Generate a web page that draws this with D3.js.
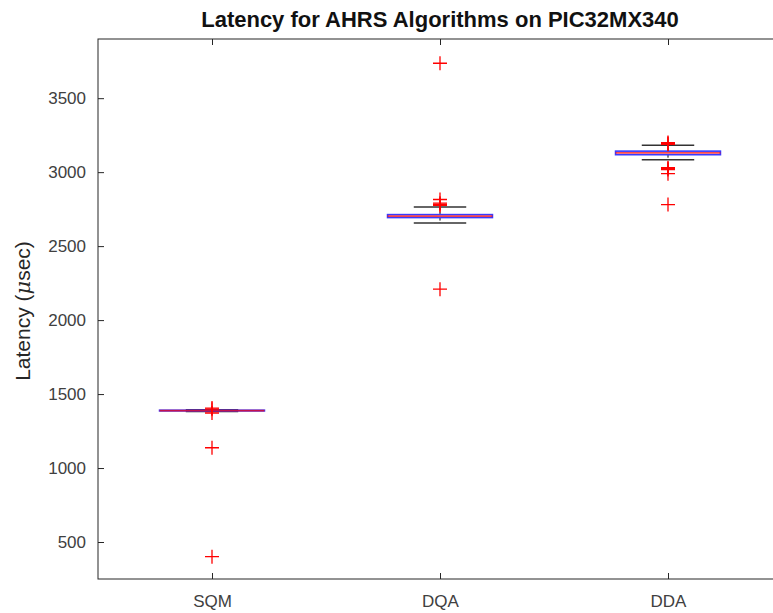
<!DOCTYPE html>
<html>
<head>
<meta charset="utf-8">
<script src="https://cdn.jsdelivr.net/npm/d3@7"></script>
<style>
  body { margin: 0; background: #fff; }
  svg { display: block; font-family: "Liberation Sans", Arial, sans-serif; }
</style>
</head>
<body>
<div id="chart"></div>
<script>
// values
const categories = ["SQM", "DQA", "DDA"]
const q1 = [1386, 2693, 3118]
const medians = [1388, 2703, 3130]
const q3 = [1391, 2713, 3142]
const whiskerLow = [1383, 2657, 3083]
const whiskerHigh = [1394, 2765, 3182]
const outliers = [
  [1405, 1398, 1372, 1137, 401],
  [3736, 2815, 2790, 2782, 2775, 2209],
  [3200, 3194, 3188, 3030, 3024, 3018, 2990, 2781]
]
const yTicks = [500, 1000, 1500, 2000, 2500, 3000, 3500]

const W = 773, H = 613
const margin = {top: 39, left: 98, bottom: 34, right: -9}
const width = W - margin.left - margin.right,
      height = H - margin.top - margin.bottom

const svg = d3.select("#chart").append("svg")
  .attr("width", W).attr("height", H)
  .style("overflow", "hidden")

const g = svg.append("g")
  .attr("transform", "translate(" + margin.left + "," + margin.top + ")")

// SCALES
const x = d3.scalePoint().domain(categories).range([0, width]).padding(0.5)
const y = d3.scaleLinear().domain([250, 3900]).range([height, 0])
const step = x.step()
const boxW = step * 0.46
const capW = boxW / 2

const axisColor = "#262626"

// frame
g.append("rect")
  .attr("width", width).attr("height", height)
  .attr("fill", "none").attr("stroke", axisColor).attr("stroke-width", 1)

// AXES (ticks inward, MATLAB style)
const yAxis = g.append("g")
  .call(d3.axisLeft(y).tickValues(yTicks).tickFormat(d3.format("d")).tickSize(-6).tickPadding(12))
const xAxis = g.append("g").attr("transform", "translate(0," + height + ")")
  .call(d3.axisBottom(x).tickSize(-6).tickPadding(16))
const xTop = g.append("g").call(d3.axisTop(x).tickSize(-6).tickFormat(""))

;[yAxis, xAxis, xTop].forEach(a => {
  a.select(".domain").remove()
  a.selectAll(".tick line").attr("stroke", axisColor)
  a.selectAll("text").attr("fill", "#404040").style("font-size", "17px")
    .style("font-family", "'Liberation Sans', Arial, sans-serif")
})

// BOXES
const boxes = g.selectAll(".box").data(categories).enter().append("g").attr("class", "box")

boxes.append("line")
  .attr("x1", d => x(d)).attr("x2", d => x(d))
  .attr("y1", (d, i) => y(q3[i])).attr("y2", (d, i) => y(whiskerHigh[i]))
  .attr("stroke", "black").attr("stroke-dasharray", "3,2")
boxes.append("line")
  .attr("x1", d => x(d)).attr("x2", d => x(d))
  .attr("y1", (d, i) => y(q1[i])).attr("y2", (d, i) => y(whiskerLow[i]))
  .attr("stroke", "black").attr("stroke-dasharray", "3,2")

;[whiskerHigh, whiskerLow].forEach(arr => {
  boxes.append("line")
    .attr("x1", d => x(d) - capW / 2).attr("x2", d => x(d) + capW / 2)
    .attr("y1", (d, i) => y(arr[i])).attr("y2", (d, i) => y(arr[i]))
    .attr("stroke", "#333").attr("stroke-width", 1.5)
})

boxes.append("rect")
  .attr("x", d => x(d) - boxW / 2).attr("width", boxW)
  .attr("y", (d, i) => y(q3[i])).attr("height", (d, i) => y(q1[i]) - y(q3[i]))
  .attr("fill", "none").attr("stroke", "#3a3aff").attr("stroke-width", 1.6)

boxes.append("line")
  .attr("x1", d => x(d) - boxW / 2).attr("x2", d => x(d) + boxW / 2)
  .attr("y1", (d, i) => y(medians[i])).attr("y2", (d, i) => y(medians[i]))
  .attr("stroke", "red").attr("stroke-opacity", 0.7).attr("stroke-width", 1.6)

// OUTLIERS
const pts = []
categories.forEach((c, i) => outliers[i].forEach(v => pts.push({c: c, v: v})))
g.selectAll(".out").data(pts).enter().append("path").attr("class", "out")
  .attr("d", d => {
    const cx = x(d.c), cy = y(d.v), r = 7
    return "M" + (cx - r) + "," + cy + "H" + (cx + r) + "M" + cx + "," + (cy - r) + "V" + (cy + r)
  })
  .attr("stroke", "red").attr("stroke-width", 1.3).attr("fill", "none")

// TITLE + LABELS
svg.append("text")
  .attr("x", margin.left + width / 2).attr("y", 27)
  .attr("text-anchor", "middle")
  .style("font-size", "22px").style("font-weight", "bold").attr("fill", "#111")
  .text("Latency for AHRS Algorithms on PIC32MX340")

const yl = svg.append("text")
  .attr("transform", "translate(30," + 311 + ") rotate(-90)")
  .attr("text-anchor", "middle")
  .style("font-size", "21px").attr("fill", "#262626")
yl.append("tspan").text("Latency (")
yl.append("tspan").style("font-style", "italic").style("font-family", "'DejaVu Serif', serif").text("\u03bc")
yl.append("tspan").text("sec)")
</script>
</body>
</html>
